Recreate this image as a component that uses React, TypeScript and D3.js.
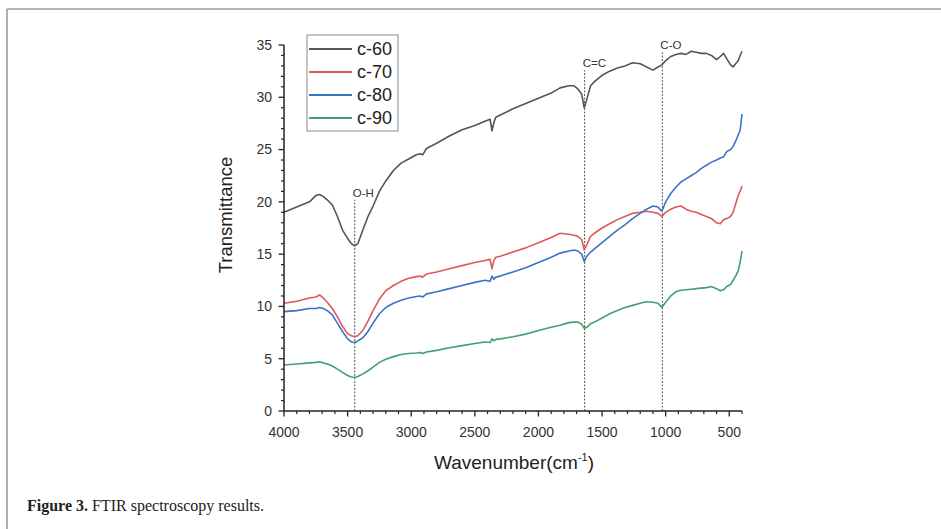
import React from "react";
import * as d3 from "d3";

const wavenumbers = [
  4000, 3900, 3800, 3750, 3720, 3690, 3660, 3620, 3580, 3540, 3500, 3470, 3444, 3420, 3380, 3340, 3300, 3250, 3200,
  3140, 3080, 3020, 2960, 2930, 2910, 2880, 2800, 2700, 2600, 2500, 2420, 2380, 2365, 2350, 2335, 2300, 2200, 2100,
  2000, 1900, 1830, 1760, 1720, 1690, 1660, 1640, 1620, 1590, 1560, 1500, 1440, 1380, 1320, 1260, 1200, 1150, 1100,
  1060, 1030, 1000, 960, 920, 880, 840, 800, 760, 720, 680, 640, 600, 570, 545, 520, 490, 470, 450, 430, 415, 400,
];

const c60 = [
  19.0, 19.5, 20.0, 20.6, 20.7, 20.5, 20.2, 19.7, 18.6, 17.3, 16.5, 16.0, 15.8, 16.0, 17.3, 18.6, 19.6, 21.0, 22.0,
  23.0, 23.7, 24.1, 24.5, 24.6, 24.5, 25.1, 25.6, 26.3, 26.9, 27.3, 27.7, 27.9, 26.8, 27.6, 28.1, 28.3, 28.9, 29.4,
  29.9, 30.4, 30.9, 31.1, 31.1, 30.8, 30.3, 29.0, 29.8, 31.1, 31.5, 32.1, 32.5, 32.8, 33.0, 33.3, 33.2, 32.9, 32.6,
  32.9, 33.1, 33.5, 33.9, 34.1, 34.2, 34.1, 34.4, 34.3, 34.2, 34.2, 34.0, 33.6, 33.9, 34.2, 33.7, 33.1, 32.9, 33.2,
  33.5, 34.0, 34.4,
];

const c70 = [
  10.3, 10.5, 10.8, 10.9, 11.1, 10.8, 10.4, 9.8, 9.0, 8.1, 7.4, 7.2, 7.1, 7.2, 7.7, 8.6, 9.6, 10.7, 11.5,
  12.0, 12.4, 12.7, 12.85, 12.9, 12.8, 13.1, 13.3, 13.6, 13.9, 14.2, 14.4, 14.5, 13.6, 14.4, 14.7, 14.8, 15.2, 15.6,
  16.1, 16.6, 17.0, 16.9, 16.8, 16.7, 16.4, 15.4, 15.9, 16.7, 17.0, 17.5, 17.9, 18.3, 18.6, 18.9, 19.0, 19.1, 19.0,
  18.9, 18.6, 19.0, 19.3, 19.5, 19.6, 19.3, 19.1, 19.0, 18.8, 18.6, 18.4, 18.0, 17.9, 18.3, 18.4, 18.6, 19.0, 19.8,
  20.6, 21.0, 21.5,
];

const c80 = [
  9.5, 9.6, 9.8, 9.8, 9.9, 9.8, 9.6, 9.2, 8.4, 7.6, 6.9, 6.6, 6.55, 6.7, 7.0, 7.6, 8.4, 9.3, 9.9,
  10.3, 10.6, 10.8, 10.95, 11.0, 10.9, 11.2, 11.4, 11.7, 12.0, 12.3, 12.5, 12.4, 12.9, 12.6, 12.8, 12.9, 13.3, 13.7,
  14.2, 14.7, 15.1, 15.3, 15.4, 15.3, 15.0, 14.3, 14.8, 15.2, 15.5, 16.1, 16.7, 17.3, 17.8, 18.4, 18.9, 19.3, 19.6,
  19.5, 19.1, 20.0, 20.8, 21.4, 21.9, 22.2, 22.5, 22.8, 23.2, 23.5, 23.8, 24.0, 24.2, 24.3, 24.8, 25.0, 25.3, 25.8,
  26.4, 26.8, 28.4,
];

const c90 = [
  4.4, 4.5, 4.6, 4.65, 4.7, 4.6, 4.5, 4.3, 4.0, 3.7, 3.4, 3.25, 3.2, 3.3, 3.55, 3.85, 4.2, 4.65, 4.95,
  5.2, 5.4, 5.5, 5.55, 5.6, 5.5, 5.65, 5.8, 6.05, 6.25, 6.45, 6.6, 6.55, 6.9, 6.7, 6.85, 6.9, 7.1, 7.35,
  7.7, 8.0, 8.2, 8.45, 8.5, 8.5, 8.3, 7.9, 8.0, 8.35, 8.5, 8.9, 9.3, 9.6, 9.9, 10.1, 10.3, 10.45, 10.4,
  10.3, 9.9, 10.4, 11.0, 11.4, 11.55, 11.6, 11.65, 11.7, 11.75, 11.8, 11.9, 11.7, 11.5, 11.6, 11.9, 12.1, 12.5, 12.9,
  13.4, 14.2, 15.3,
];

const seriesNames = ["c-60", "c-70", "c-80", "c-90"];
const seriesValues = [c60, c70, c80, c90];
const seriesColors = ["#555555", "#dc5a5a", "#3a74c4", "#43a06c"];

const xMajorTicks = [4000, 3500, 3000, 2500, 2000, 1500, 1000, 500];
const yMajorTicks = [0, 5, 10, 15, 20, 25, 30, 35];

const peakWavenumbers = [3444, 1637, 1026];
const peakLabels = ["O-H", "C=C", "C-O"];
const peakTopValues = [20.2, 32.6, 34.3];

const FONT = "'Liberation Sans', Arial, sans-serif";

export default function App() {
  const W = 941;
  const H = 529;
  const x = d3.scaleLinear().domain([4000, 400]).range([284, 742]);
  const y = d3.scaleLinear().domain([0, 35]).range([411, 45]);
  const line = d3
    .line<number>()
    .x((_, i) => x(wavenumbers[i]))
    .y((d) => y(d));

  const xMinor = d3.range(4000, 399, -100).filter((v) => v % 500 !== 0);
  const yMinor = d3.range(0, 35.001, 1).filter((v) => v % 5 !== 0);
  const axisColor = "#222";

  return (
    <svg
      width={W}
      height={H}
      style={{ position: "absolute", left: 0, top: 0, background: "#fff" }}
      fontFamily={FONT}
    >
      <rect x={0} y={0} width={W} height={H} fill="#fff" />
      {/* page frame */}
      <line x1={7} y1={9} x2={W} y2={9} stroke="#9a9a9a" strokeWidth={1.6} />
      <line x1={7} y1={9} x2={7} y2={H} stroke="#9a9a9a" strokeWidth={1.6} />

      {/* peak markers */}
      {peakWavenumbers.map((w, i) => (
        <g key={peakLabels[i]}>
          <line
            x1={x(w)}
            x2={x(w)}
            y1={y(0)}
            y2={y(peakTopValues[i])}
            stroke="#555"
            strokeWidth={1}
            strokeDasharray="2,1.5"
          />
          <text x={x(w) - 2} y={y(peakTopValues[i]) - 3} fontSize={11.5} fill="#333">
            {peakLabels[i]}
          </text>
        </g>
      ))}

      {/* series */}
      {seriesValues.map((vals, i) => (
        <path
          key={seriesNames[i]}
          d={line(vals) || ""}
          fill="none"
          stroke={seriesColors[i]}
          strokeWidth={1.6}
          strokeLinejoin="round"
        />
      ))}

      {/* x axis */}
      <line x1={x(4000)} x2={x(400)} y1={y(0)} y2={y(0)} stroke={axisColor} strokeWidth={1.5} />
      {xMinor.map((v) => (
        <line key={"xm" + v} x1={x(v)} x2={x(v)} y1={y(0)} y2={y(0) + 3} stroke={axisColor} strokeWidth={1.2} />
      ))}
      {xMajorTicks.map((v) => (
        <g key={"xt" + v}>
          <line x1={x(v)} x2={x(v)} y1={y(0)} y2={y(0) + 5.5} stroke={axisColor} strokeWidth={1.3} />
          <text x={x(v)} y={y(0) + 26} fontSize={14} textAnchor="middle" fill="#333">
            {v}
          </text>
        </g>
      ))}

      {/* y axis */}
      <line x1={x(4000)} x2={x(4000)} y1={y(0)} y2={y(35)} stroke={axisColor} strokeWidth={1.5} />
      {yMinor.map((v) => (
        <line key={"ym" + v} x1={x(4000) - 3} x2={x(4000)} y1={y(v)} y2={y(v)} stroke={axisColor} strokeWidth={1.2} />
      ))}
      {yMajorTicks.map((v) => (
        <g key={"yt" + v}>
          <line x1={x(4000) - 5.5} x2={x(4000)} y1={y(v)} y2={y(v)} stroke={axisColor} strokeWidth={1.3} />
          <text x={x(4000) - 12} y={y(v)} dy="0.35em" fontSize={14} textAnchor="end" fill="#333">
            {v}
          </text>
        </g>
      ))}

      {/* axis titles */}
      <text
        transform={`translate(232, 215) rotate(-90)`}
        fontSize={18.5}
        textAnchor="middle"
        fill="#222"
      >
        Transmittance
      </text>
      <text x={514} y={469} fontSize={19} textAnchor="middle" fill="#222">
        Wavenumber(cm
        <tspan fontSize={11} dy={-8}>
          -1
        </tspan>
        <tspan dy={8}>)</tspan>
      </text>

      {/* legend */}
      <rect x={307} y={35} width={91} height={96} fill="#fff" stroke="#8a8a8a" strokeWidth={1} />
      {seriesNames.map((name, i) => (
        <g key={"lg" + name} transform={`translate(0, ${49 + i * 23})`}>
          <line x1={309} x2={352} y1={0} y2={0} stroke={seriesColors[i]} strokeWidth={1.8} />
          <text x={357} y={0} dy="0.36em" fontSize={18} fill="#222">
            {name}
          </text>
        </g>
      ))}

      {/* caption */}
      <text x={27} y={511} fontSize={16} fontFamily="'Liberation Serif', 'Times New Roman', serif" fill="#222">
        <tspan fontWeight="bold">Figure 3.</tspan>
        <tspan> FTIR spectroscopy results.</tspan>
      </text>
    </svg>
  );
}
